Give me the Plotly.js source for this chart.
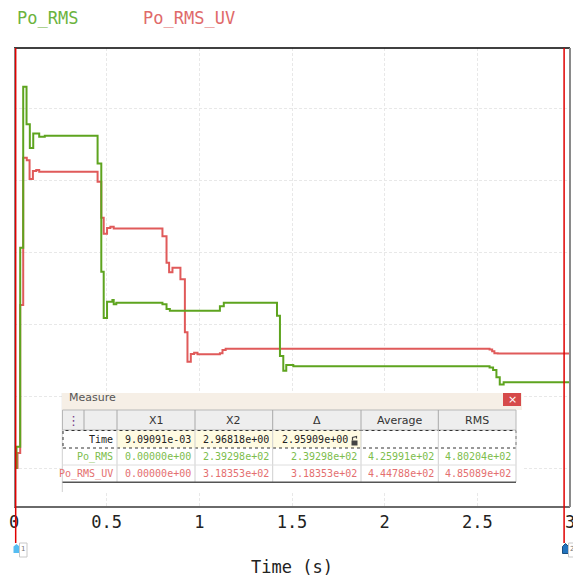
<!DOCTYPE html>
<html>
<head>
<meta charset="utf-8">
<script src="https://cdn.plot.ly/plotly-3.0.1.min.js"></script>
<style>html,body{margin:0;padding:0;background:#fff;}#chart{width:573px;height:577px;}</style>
</head>
<body>
<div id="chart"></div>
<script>
// ---- data ----
const seriesNames = ["Po_RMS", "Po_RMS_UV"];
const timePoRms = [0, 0.0135, 0.0335, 0.0497, 0.0676, 0.0854, 0.1038, 0.136, 0.166, 0.451, 0.471, 0.484, 0.502, 0.531, 0.538, 0.552, 0.801, 0.823, 0.841, 1.111, 1.132, 1.419, 1.435, 1.453, 1.469, 1.507, 2.566, 2.585, 2.603, 2.621, 2.642, 3.0];
const valPoRms  = [0, 59, 612, 1059, 955, 889, 929, 920, 923, 846, 545, 417, 462, 467, 455, 459, 455, 442, 437, 449, 459, 423, 311, 270, 286, 283, 279, 272, 252, 232, 238, 239.3];
const timePoRmsUV = [0, 0.019, 0.0335, 0.0497, 0.069, 0.084, 0.102, 0.12, 0.136, 0.451, 0.471, 0.484, 0.502, 0.52, 0.538, 0.801, 0.823, 0.837, 0.855, 0.898, 0.922, 0.936, 0.954, 0.972, 0.99, 1.111, 1.125, 1.142, 2.566, 2.580, 2.592, 2.610, 3.0];
const valPoRmsUV  = [0, 42, 453, 862, 855, 803, 825, 828, 823, 795, 695, 651, 667, 670, 665, 644, 570, 544, 556, 524, 377, 295, 317, 320, 316, 319, 328, 331, 329, 324, 319, 318.4, 318.353];
const cursorTimes = [0.00909091, 2.96818];
const xTickVals = [0, 0.5, 1, 1.5, 2, 2.5, 3];
const yGridVals = [0, 200, 400, 600, 800, 1000];
const measureCols = ["X1", "X2", "\u0394", "Average", "RMS"];
const measureRowNames = ["Time", "Po_RMS", "Po_RMS_UV"];
const measureTime  = ["9.09091e-03", "2.96818e+00", "2.95909e+00", "", ""];
const measurePoRms = ["0.00000e+00", "2.39298e+02", "2.39298e+02", "4.25991e+02", "4.80204e+02"];
const measurePoRmsUV = ["0.00000e+00", "3.18353e+02", "3.18353e+02", "4.44788e+02", "4.85089e+02"];

// ---- styling / geometry ----
const GREEN = "#5ea41f", RED = "#e05a5a";
const GREEN_T = "#6cb33e", RED_T = "#e06a6a";
const L = 14, R = 570, T = 48, B = 507;
const px = x => (x - L) / (R - L);
const py = y => (B - y) / (B - T);
const mono = "DejaVu Sans Mono";
const sans = "DejaVu Sans";

const traces = [
  {x: timePoRmsUV, y: valPoRmsUV, name: seriesNames[1], mode: "lines", line: {shape: "hv", color: RED, width: 2}},
  {x: timePoRms, y: valPoRms, name: seriesNames[0], mode: "lines", line: {shape: "hv", color: GREEN, width: 2}}
];

const shapes = [];
const ann = [];
function rect(x0, y0, x1, y1, fill, line) {
  shapes.push({type: "rect", xref: "paper", yref: "paper", x0: px(x0), x1: px(x1), y0: py(y1), y1: py(y0),
    fillcolor: fill, line: line || {width: 0}, layer: "above"});
}
function hline(x0, x1, y, color, w, dash) {
  shapes.push({type: "line", xref: "paper", yref: "paper", x0: px(x0), x1: px(x1), y0: py(y), y1: py(y),
    line: {color: color, width: w, dash: dash || "solid"}, layer: "above"});
}
function vline(x, y0, y1, color, w, dash) {
  shapes.push({type: "line", xref: "paper", yref: "paper", x0: px(x), x1: px(x), y0: py(y0), y1: py(y1),
    line: {color: color, width: w, dash: dash || "solid"}, layer: "above"});
}
function text(x, y, s, opts) {
  ann.push(Object.assign({xref: "paper", yref: "paper", x: px(x), y: py(y), text: s, showarrow: false,
    xanchor: "center", yanchor: "middle", font: {family: sans, size: 12, color: "#222"}}, opts || {}));
}

// frame
hline(L, R, T, "#000", 1.5);
hline(L, R, B, "#6a6a6a", 2);
vline(15, T, B, "#8a8a8a", 2);
vline(R, T, B, "#8a8a8a", 2);

// cursor lines
cursorTimes.forEach(t => shapes.push({type: "line", xref: "x", yref: "paper", x0: t, x1: t, y0: py(543), y1: 1,
  line: {color: "#e00000", width: 1.5}, layer: "above"}));

// cursor markers
shapes.push({type: "path", xref: "paper", yref: "paper", path:
  `M ${px(13.5)} ${py(546.5)} L ${px(16.5)} ${py(544)} L ${px(19.5)} ${py(546.5)} L ${px(19.5)} ${py(553)} L ${px(13.5)} ${py(553)} Z`,
  fillcolor: "#56bdf2", line: {width: 0}, layer: "above"});
rect(19.5, 543, 27, 557, "#fff", {color: "#c8c8c8", width: 1});
text(23.2, 549, "1", {font: {family: sans, size: 7, color: "#777"}});
shapes.push({type: "path", xref: "paper", yref: "paper", path:
  `M ${px(562.5)} ${py(546.5)} L ${px(565.5)} ${py(543.5)} L ${px(568.5)} ${py(546.5)} L ${px(568.5)} ${py(553.5)} L ${px(562.5)} ${py(553.5)} Z`,
  fillcolor: "#2273bd", line: {color: "#1a4f80", width: 1}, layer: "above"});
rect(568.5, 543, 576, 557, "#fff", {color: "#c8c8c8", width: 1});
text(571.5, 549, "2", {font: {family: sans, size: 7, color: "#777"}});

// legend labels
text(15, 18, seriesNames[0], {xanchor: "left", font: {family: mono, size: 17, color: GREEN_T}});
text(141, 18, seriesNames[1], {xanchor: "left", font: {family: mono, size: 17, color: RED_T}});

// ---- measure panel ----
const colEdges = [117, 195, 272.7, 361, 438.3, 515];
rect(62, 393, 522, 492, "#ffffff");
vline(62.3, 393, 492, "#d0d0d0", 1);
rect(62, 393, 522, 410, "#f6efe6");
text(67, 397, "Measure", {xanchor: "left", font: {family: sans, size: 11, color: "#555"}});
rect(503, 393, 521, 406, "#d64a4a");
text(512, 399.5, "\u00d7", {font: {family: sans, size: 11, color: "#fff"}});
// header
rect(62.5, 410, 516, 430, "#eeeeee", {color: "#b8b8b8", width: 1});
[84, 117, 195, 272.7, 361, 438.3].forEach(x => vline(x, 410, 430, "#a8a8a8", 1));
text(73.5, 420, "\u22ee", {font: {family: sans, size: 13, color: "#7a3f8a"}});
measureCols.forEach((c, i) => text((colEdges[i] + colEdges[i + 1]) / 2, 420, c, {font: {family: sans, size: 11, color: "#333"}}));
// time row
rect(117, 430.5, 361, 448, "#fffbe2");
shapes.push({type: "rect", xref: "paper", yref: "paper", x0: px(63), x1: px(516), y0: py(448), y1: py(430.5),
  fillcolor: "rgba(0,0,0,0)", line: {color: "#333", width: 1, dash: "dot"}, layer: "above"});
// body separators
[117, 195, 272.7, 361, 438.3, 516].forEach(x => vline(x, 430, 482, "#cfcfcf", 1));
hline(62.5, 516, 465, "#dedede", 1);
hline(62.5, 516, 482.3, "#555", 1.5);
// lock icon
rect(351.5, 440.5, 357.5, 445.5, "#444");
shapes.push({type: "path", xref: "paper", yref: "paper", path:
  `M ${px(352.5)} ${py(440.5)} L ${px(352.5)} ${py(437.5)} L ${px(356.5)} ${py(436.5)} L ${px(356.5)} ${py(438.5)}`,
  line: {color: "#444", width: 1.2}, layer: "above"});

const rowsY = [439.3, 456.5, 473.6];
const rowColors = ["#222", "#7dbd4c", "#e46f6f"];
const rowVals = [measureTime, measurePoRms, measurePoRmsUV];
measureRowNames.forEach((name, r) => {
  text(115, rowsY[r], name, {xanchor: "right", font: {family: mono, size: 10, color: rowColors[r]}});
  rowVals[r].forEach((v, i) => {
    if (!v) return;
    const right = colEdges[i + 1] - (i === 2 && r === 0 ? 11 : 2);
    text(right, rowsY[r], v, {xanchor: "right", font: {family: mono, size: 10, color: rowColors[r]}});
  });
});

const layout = {
  width: 573, height: 577,
  margin: {l: L, r: 573 - R, t: T, b: 577 - B},
  paper_bgcolor: "#fff", plot_bgcolor: "#fff",
  showlegend: false,
  xaxis: {
    range: [0, 3], tickvals: xTickVals, ticktext: xTickVals.map(String),
    showgrid: true, gridcolor: "#e8e8e8", griddash: "3px,2px", gridwidth: 1,
    zeroline: false, showline: false, ticks: "", ticklabeloverflow: "allow", ticklabelstandoff: 3,
    tickfont: {family: mono, size: 17, color: "#222"},
    title: {text: "Time (s)", font: {family: mono, size: 17, color: "#222"}, standoff: 33}
  },
  yaxis: {
    range: [-108.3, 1166.7], tickvals: yGridVals, showticklabels: false,
    showgrid: true, gridcolor: "#e8e8e8", griddash: "3px,2px", gridwidth: 1,
    zeroline: false, showline: false, ticks: ""
  },
  shapes: shapes,
  annotations: ann
};

Plotly.newPlot("chart", traces, layout, {staticPlot: true, displayModeBar: false});
</script>
</body>
</html>
